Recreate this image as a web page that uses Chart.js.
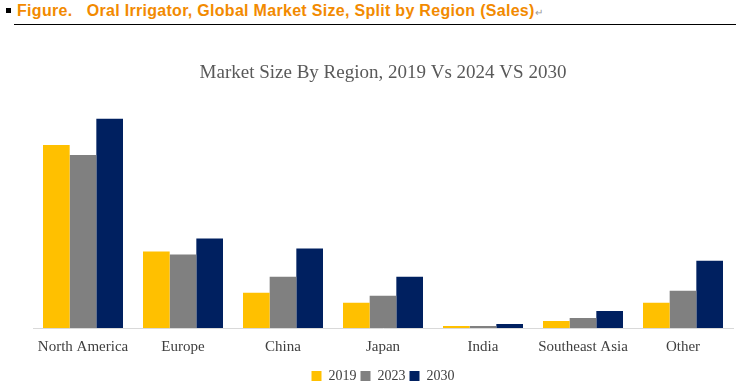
<!DOCTYPE html>
<html>
<head>
<meta charset="utf-8">
<script src="https://cdn.jsdelivr.net/npm/chart.js@4"></script>
<style>
  html, body { margin: 0; padding: 0; background: #fff; }
  body { width: 736px; height: 391px; position: relative; overflow: hidden; }
  #head { position: absolute; left: 0; top: 3px; width: 736px; height: 22px; }
  #bullet { position: absolute; left: 6px; top: 5px; width: 5px; height: 5px; background: #000; }
  #htext { position: absolute; left: 17px; top: -1px; font: bold 16px "Liberation Sans", sans-serif; letter-spacing: 0.3px; color: #F28A00; white-space: nowrap; }
  #htext span { color: #999; font-weight: normal; font-size: 10px; letter-spacing: 0; }
  #rule { position: absolute; left: 14px; top: 21px; width: 722px; height: 1px; background: #000; }
  #wrap { position: absolute; left: 0; top: 30px; width: 736px; height: 363px; }
</style>
</head>
<body>
<div id="head">
  <div id="bullet"></div>
  <div id="htext">Figure.&nbsp;&nbsp;&nbsp;Oral Irrigator, Global Market Size, Split by Region (Sales)<span>&#8629;</span></div>
  <div id="rule"></div>
</div>
<div id="wrap"><canvas id="c"></canvas></div>
<script>
var regions = ['North America', 'Europe', 'China', 'Japan', 'India', 'Southeast Asia', 'Other'];
var years = ['2019', '2023', '2030'];
var sales2019 = [182, 76, 35, 25, 2, 7, 25];
var sales2023 = [172, 73, 51, 32, 2, 10, 37];
var sales2030 = [208, 89, 79, 51, 4, 17, 67];
var colors = ['#FFC000', '#808080', '#002060'];

var serif = '"Liberation Serif", "DejaVu Serif", serif';

new Chart(document.getElementById('c'), {
  type: 'bar',
  data: {
    labels: regions,
    datasets: [
      { label: years[0], data: sales2019, backgroundColor: colors[0] },
      { label: years[1], data: sales2023, backgroundColor: colors[1] },
      { label: years[2], data: sales2030, backgroundColor: colors[2] }
    ]
  },
  options: {
    responsive: true,
    maintainAspectRatio: false,
    animation: false,
    layout: { padding: { left: 33, right: 3, top: 0, bottom: 0 } },
    datasets: { bar: { barPercentage: 1, categoryPercentage: 0.8 } },
    scales: {
      x: {
        grid: { display: false },
        border: { display: true, color: '#D9D9D9', width: 1 },
        ticks: { color: '#404040', font: { family: serif, size: 15 }, padding: 2, maxRotation: 0 },
        // extra room between the labels and the legend
        afterFit: function(scale) { scale.height += 7; }
      },
      y: { display: false, min: 0, max: 217 }
    },
    plugins: {
      title: {
        display: true,
        text: 'Market Size By Region, 2019 Vs 2024 VS 2030',
        color: '#595959',
        font: { family: serif, size: 19, weight: 'normal' },
        padding: { top: 32, bottom: 25 }
      },
      legend: {
        position: 'bottom',
        labels: {
          boxWidth: 10, boxHeight: 10, padding: 4,
          color: '#404040',
          font: { family: serif, size: 14 }
        }
      },
      tooltip: { enabled: false }
    }
  }
});
</script>
</body>
</html>
